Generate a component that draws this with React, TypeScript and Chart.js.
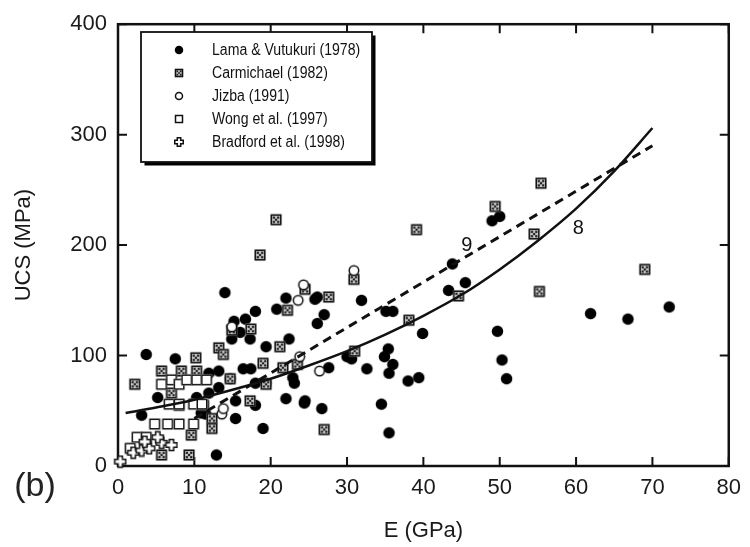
import React, { useEffect, useRef } from 'react';
import { Chart, registerables } from 'chart.js';
Chart.register(...registerables);

const seriesNames = ['Lama & Vutukuri (1978)', 'Carmichael (1982)', 'Jizba (1991)', 'Wong et al. (1997)', 'Bradford et al. (1998)'];

const lamaE = [49.0,50.0,49.7,50.3,50.9,61.9,66.8,72.2,43.8,45.5,43.3,39.9,35.4,34.9,36.0,35.5,38.0,39.4,34.5,35.5,32.6,35.1,36.0,31.9,26.1,27.0,26.1,30.6,30.0,27.6,24.5,26.7,14.0,22.0,20.8,18.0,16.7,15.2,25.8,16.0,14.9,17.3,22.4,3.7,7.5,19.4,16.4,17.4,13.2,14.7,11.9,22.9,19.4,23.1,11.9,13.2,18.0,15.4,15.4,10.9,19.0,12.9,22.0,24.4,3.1,5.2,10.3,11.5,18.0];
const lamaUCS = [222,226,122,96,79,138,133,144,183,166,159,120,106,99,92,84,77,80,56,30,88,140,140,150,153,137,129,97,99,89,59,52,157,152,142,140,133,131,151,121,115,115,115,101,97,108,88,88,86,79,84,80,75,75,66,71,75,59,43,48,34,10,61,57,46,62,62,47,55];

const carE = [20.7,18.6,22.2,17.4,14.9,49.4,39.1,30.9,27.6,24.5,31.0,38.1,44.6,27.0,55.4,54.5,55.2,69.0,2.2,5.7,8.3,10.3,10.2,13.2,13.8,19.0,21.2,14.7,7.0,8.0,11.2,17.3,19.4,21.6,23.5,12.3,12.3,9.6,5.7,9.3];
const carUCS = [223,191,141,124,123,235,214,169,153,160,104,132,154,33,256,210,158,178,74,86,86,86,98,107,101,93,108,79,66,55,55,59,74,89,92,43,34,28,10,10];

const jizE = [24.3,23.6,30.9,23.8,26.4,14.9,13.6,13.8];
const jizUCS = [164,150,177,99,86,126,47,52];

const wongE = [5.7,7.0,8.0,9.0,10.3,11.6,6.7,8.0,9.9,11.0,4.8,6.5,8.0,9.9,2.5,3.7,1.6];
const wongUCS = [74,78,74,78,78,78,56,56,56,56,38,38,38,38,26,26,16];

const bradE = [0.3,2.0,3.1,5.7,7.0,5.2,4.1,3.5];
const bradUCS = [4,12,14,21,19,26,16,22];

const fit8E = [1,5,10,15,20,25,30,35,40,45,50,55,60,65,70];
const fit8UCS = [48,53,60,69,79,91,104,119,136,155,178,204,233,267,306];
const fit9E = [10,70];
const fit9UCS = [43,290];

const xTicks = [0,10,20,30,40,50,60,70,80];
const yTicks = [0,100,200,300,400];

const curveLabels = [
  { text: '8', e: 60.3, ucs: 215 },
  { text: '9', e: 45.7, ucs: 200 },
];

const FONT = '"Liberation Sans", Arial, Helvetica, sans-serif';

type Kind = 'dot' | 'xsq' | 'ocirc' | 'osq' | 'plus';
const kinds: Kind[] = ['dot', 'xsq', 'ocirc', 'osq', 'plus'];
const markerSizes = [11.5, 11, 11, 11, 11];

function drawSymbol(ctx: CanvasRenderingContext2D, kind: Kind, cx: number, cy: number, s: number) {
  const h = s / 2;
  ctx.save();
  ctx.lineWidth = 1.5;
  ctx.strokeStyle = '#111';
  if (kind === 'dot') {
    ctx.fillStyle = '#000';
    ctx.beginPath();
    ctx.arc(cx, cy, h, 0, Math.PI * 2);
    ctx.fill();
  } else if (kind === 'ocirc') {
    ctx.fillStyle = '#fff';
    ctx.beginPath();
    ctx.arc(cx, cy, h - 0.75, 0, Math.PI * 2);
    ctx.fill();
    ctx.stroke();
  } else if (kind === 'osq') {
    ctx.fillStyle = '#fff';
    ctx.fillRect(cx - h, cy - h, s, s);
    ctx.strokeRect(cx - h + 0.75, cy - h + 0.75, s - 1.5, s - 1.5);
  } else if (kind === 'xsq') {
    ctx.fillStyle = '#c4c4c4';
    ctx.fillRect(cx - h, cy - h, s, s);
    ctx.strokeRect(cx - h + 0.75, cy - h + 0.75, s - 1.5, s - 1.5);
    ctx.fillStyle = '#222';
    const q = s * 0.2;
    const d = s * 0.1;
    [[-q, -q], [q, -q], [-q, q], [q, q], [0, 0]].forEach(([dx, dy]) => {
      ctx.fillRect(cx + dx - d, cy + dy - d, 2 * d, 2 * d);
    });
  } else if (kind === 'plus') {
    const a = s * 0.2;
    ctx.fillStyle = '#fff';
    ctx.beginPath();
    ctx.moveTo(cx - a, cy - h);
    ctx.lineTo(cx + a, cy - h);
    ctx.lineTo(cx + a, cy - a);
    ctx.lineTo(cx + h, cy - a);
    ctx.lineTo(cx + h, cy + a);
    ctx.lineTo(cx + a, cy + a);
    ctx.lineTo(cx + a, cy + h);
    ctx.lineTo(cx - a, cy + h);
    ctx.lineTo(cx - a, cy + a);
    ctx.lineTo(cx - h, cy + a);
    ctx.lineTo(cx - h, cy - a);
    ctx.lineTo(cx - a, cy - a);
    ctx.closePath();
    ctx.fill();
    ctx.stroke();
  }
  ctx.restore();
}

function makeImage(kind: Kind, s: number): HTMLCanvasElement {
  const c = document.createElement('canvas');
  const n = Math.ceil(s + 3);
  c.width = n;
  c.height = n;
  const ctx = c.getContext('2d')!;
  drawSymbol(ctx, kind, n / 2, n / 2, s);
  return c;
}

function pts(xs: number[], ys: number[]) {
  return xs.map((x, i) => ({ x, y: ys[i] }));
}

const decor = {
  id: 'decor',
  beforeDatasetsDraw(chart: any) {
    const { ctx, chartArea: a, scales } = chart;
    const xs = scales.x, ys = scales.y;
    ctx.save();
    ctx.strokeStyle = '#111';
    ctx.lineWidth = 2.5;
    ctx.strokeRect(a.left, a.top, a.right - a.left, a.bottom - a.top);
    ctx.lineWidth = 2;
    const tl = 9;
    ctx.beginPath();
    xTicks.forEach((v) => {
      const p = xs.getPixelForValue(v);
      ctx.moveTo(p, a.bottom);
      ctx.lineTo(p, a.bottom - tl);
      ctx.moveTo(p, a.top);
      ctx.lineTo(p, a.top + tl);
    });
    yTicks.forEach((v) => {
      const p = ys.getPixelForValue(v);
      ctx.moveTo(a.left, p);
      ctx.lineTo(a.left + tl, p);
      ctx.moveTo(a.right, p);
      ctx.lineTo(a.right - tl, p);
    });
    ctx.stroke();
    ctx.restore();
  },
  afterDatasetsDraw(chart: any) {
    const { ctx, scales } = chart;
    ctx.save();
    // curve labels
    ctx.fillStyle = '#111';
    ctx.font = `20px ${FONT}`;
    ctx.textAlign = 'center';
    ctx.textBaseline = 'middle';
    curveLabels.forEach((l) => {
      ctx.fillText(l.text, scales.x.getPixelForValue(l.e), scales.y.getPixelForValue(l.ucs));
    });
    // legend box
    const bx = 141, by = 32, bw = 231, bh = 130;
    ctx.fillStyle = '#000';
    ctx.fillRect(bx + 3.5, by + 3.5, bw, bh);
    ctx.fillStyle = '#fff';
    ctx.fillRect(bx, by, bw, bh);
    ctx.strokeStyle = '#111';
    ctx.lineWidth = 1.8;
    ctx.strokeRect(bx, by, bw, bh);
    const rows = [50, 73, 96, 119, 142];
    ctx.textAlign = 'left';
    ctx.font = `16px ${FONT}`;
    seriesNames.forEach((name, i) => {
      drawSymbol(ctx, kinds[i], 179, rows[i], 8.5);
      ctx.save();
      ctx.translate(212, rows[i] + 1);
      ctx.scale(0.88, 1);
      ctx.fillStyle = '#111';
      ctx.fillText(name, 0, 0);
      ctx.restore();
    });
    // panel label
    ctx.font = `34px ${FONT}`;
    ctx.textAlign = 'center';
    ctx.fillStyle = '#222';
    ctx.fillText('(b)', 35, 487);
    ctx.restore();
  },
};

export default function App() {
  const ref = useRef<HTMLCanvasElement>(null);
  useEffect(() => {
    const canvas = ref.current!;
    const imgs = kinds.map((k, i) => makeImage(k, markerSizes[i]));
    const pointSets = [
      pts(lamaE, lamaUCS),
      pts(carE, carUCS),
      pts(jizE, jizUCS),
      pts(wongE, wongUCS),
      pts(bradE, bradUCS),
    ];
    const pointDatasets = pointSets.map((d, i) => ({
      label: seriesNames[i],
      data: d,
      pointStyle: imgs[i],
      pointRadius: 5,
      showLine: false,
      clip: false as any,
      order: 5 - i,
    }));
    const chart = new Chart(canvas, {
      type: 'scatter',
      data: {
        datasets: [
          {
            label: 'Eq. 8',
            data: pts(fit8E, fit8UCS),
            showLine: true,
            borderColor: '#111',
            borderWidth: 2.5,
            pointRadius: 0,
            tension: 0.4,
            cubicInterpolationMode: 'monotone',
            order: 0,
          } as any,
          {
            label: 'Eq. 9',
            data: pts(fit9E, fit9UCS),
            showLine: true,
            borderColor: '#111',
            borderWidth: 3,
            borderDash: [9, 6],
            pointRadius: 0,
            order: 0,
          } as any,
          ...pointDatasets,
        ],
      },
      options: {
        responsive: false,
        maintainAspectRatio: false,
        animation: false,
        devicePixelRatio: 1,
        layout: { padding: { top: 19, right: 13, left: 0, bottom: 0 } },
        plugins: { legend: { display: false }, tooltip: { enabled: false } },
        scales: {
          x: {
            type: 'linear',
            min: 0,
            max: 80,
            afterBuildTicks: (s: any) => { s.ticks = xTicks.map((v) => ({ value: v })); },
            afterFit: (s: any) => { s.height = 81; },
            grid: { display: false, drawTicks: false },
            border: { display: false },
            ticks: { color: '#1a1a1a', font: { family: FONT, size: 22 }, padding: 9, maxRotation: 0 },
            title: { display: true, text: 'E (GPa)', color: '#1a1a1a', font: { family: FONT, size: 22 }, padding: { top: 0, bottom: 3 } },
          },
          y: {
            type: 'linear',
            min: 0,
            max: 400,
            afterBuildTicks: (s: any) => { s.ticks = yTicks.map((v) => ({ value: v })); },
            afterFit: (s: any) => { s.width = 118; },
            grid: { display: false, drawTicks: false },
            border: { display: false },
            ticks: { color: '#1a1a1a', font: { family: FONT, size: 22 }, padding: 11 },
            title: { display: true, text: 'UCS (MPa)', color: '#1a1a1a', font: { family: FONT, size: 22 }, padding: { top: 11, bottom: 0 } },
          },
        },
      },
      plugins: [decor],
    });
    return () => chart.destroy();
  }, []);
  return (
    <div style={{ position: 'absolute', left: 0, top: 0, width: 750, height: 547, background: '#fff' }}>
      <canvas ref={ref} width={750} height={547} style={{ display: 'block', width: 750, height: 547 }} />
    </div>
  );
}
